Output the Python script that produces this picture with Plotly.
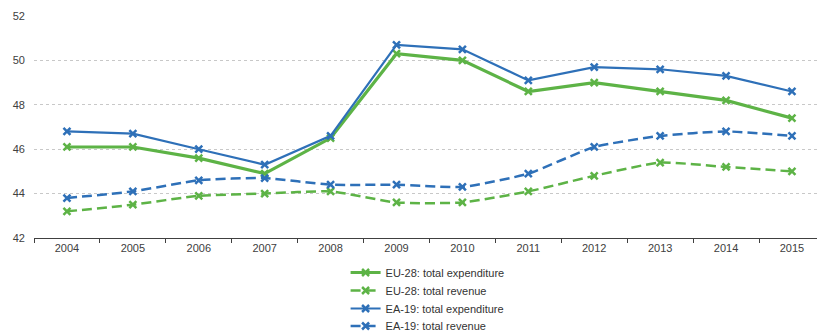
import plotly.graph_objects as go

years = ["2004", "2005", "2006", "2007", "2008", "2009", "2010", "2011", "2012", "2013", "2014", "2015"]
eu_exp = [46.1, 46.1, 45.6, 44.9, 46.5, 50.3, 50.0, 48.6, 49.0, 48.6, 48.2, 47.4]
eu_rev = [43.2, 43.5, 43.9, 44.0, 44.1, 43.6, 43.6, 44.1, 44.8, 45.4, 45.2, 45.0]
ea_exp = [46.8, 46.7, 46.0, 45.3, 46.6, 50.7, 50.5, 49.1, 49.7, 49.6, 49.3, 48.6]
ea_rev = [43.8, 44.1, 44.6, 44.7, 44.4, 44.4, 44.3, 44.9, 46.1, 46.6, 46.8, 46.6]
y_ticks = [42, 44, 46, 48, 50, 52]

GREEN = "#5DB346"
BLUE = "#2E70B8"
FONT = "Liberation Sans, Arial, sans-serif"
DASH = "10px,5px"

fig = go.Figure()
fig.add_trace(go.Scatter(x=years, y=eu_exp, name="EU-28: total expenditure", mode="lines+markers",
                         legend="legend",
                         line=dict(color=GREEN, width=3.2),
                         marker=dict(symbol="x-thin", size=7, line=dict(color=GREEN, width=2.5))))
fig.add_trace(go.Scatter(x=years, y=eu_rev, name="EU-28: total revenue", mode="lines+markers",
                         legend="legend2",
                         line=dict(color=GREEN, width=2.5, dash=DASH, shape="spline", smoothing=0.5),
                         marker=dict(symbol="x-thin", size=7, line=dict(color=GREEN, width=2.5))))
fig.add_trace(go.Scatter(x=years, y=ea_exp, name="EA-19: total expenditure", mode="lines+markers",
                         legend="legend3",
                         line=dict(color=BLUE, width=2.2),
                         marker=dict(symbol="x-thin", size=7, line=dict(color=BLUE, width=2.5))))
fig.add_trace(go.Scatter(x=years, y=ea_rev, name="EA-19: total revenue", mode="lines+markers",
                         legend="legend4",
                         line=dict(color=BLUE, width=2.5, dash=DASH, shape="spline", smoothing=0.5),
                         marker=dict(symbol="x-thin", size=7, line=dict(color=BLUE, width=2.5))))

rows_px = [272.5, 290.5, 308.5, 326]
def leg(ypx):
    return dict(xref="container", yref="container", x=0.423, y=1 - ypx / 333,
                xanchor="left", yanchor="middle", orientation="v",
                font=dict(family=FONT, size=11, color="#333333"),
                itemwidth=30, bgcolor="rgba(0,0,0,0)")

fig.update_layout(
    width=817, height=333,
    margin=dict(l=34, r=0, t=16, b=95, autoexpand=False),
    paper_bgcolor="white", plot_bgcolor="white",
    font=dict(family=FONT, size=11, color="#404040"),
    showlegend=True,
    legend=leg(rows_px[0]), legend2=leg(rows_px[1]), legend3=leg(rows_px[2]), legend4=leg(rows_px[3]),
    xaxis=dict(type="category", range=[-0.5, 11.38], showgrid=False, showline=True,
               linecolor="#404040", linewidth=1, ticks="outside", ticklen=4, tickcolor="#404040",
               tickson="boundaries", tickfont=dict(size=11, color="#404040"), fixedrange=True),
    yaxis=dict(range=[42, 52], tickvals=y_ticks, showgrid=True, gridcolor="#C8C8C8", griddash="dot",
               gridwidth=1, zeroline=False, showline=False, ticks="", ticklabelstandoff=8,
               tickfont=dict(size=11, color="#404040")),
)

fig.write_html("out.html")
